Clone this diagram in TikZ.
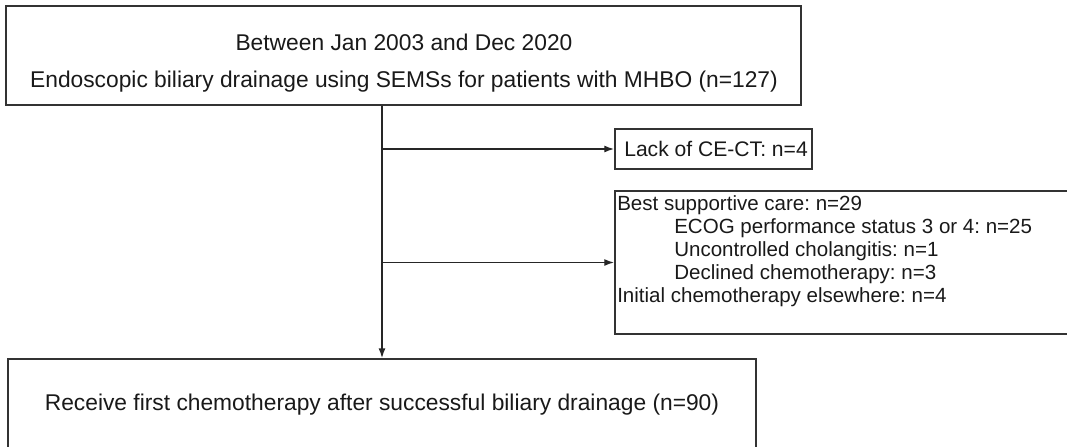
\documentclass[tikz,border=0pt]{standalone}
\usepackage{fontspec}
\setmainfont{Liberation Sans}
\usetikzlibrary{arrows.meta}
\frenchspacing

\begin{document}
\begin{tikzpicture}[x=0.025cm,y=-0.025cm]
\useasboundingbox (0,0) rectangle (1067,447);
\clip (0,0) rectangle (1067,447);

\begin{scope}[every node/.style={rectangle,draw=black!80,line width=1.2pt,inner sep=0pt}]
    \node (top) at (403.5,55.5) [minimum width=19.875cm, minimum height=2.475cm] {};
    \node (lack) at (713.5,149) [minimum width=4.925cm, minimum height=1cm] {};
    \node (bsc) at (845,262.5) [minimum width=11.5cm, minimum height=3.575cm] {};
    \node (bot) at (382,405) [minimum width=18.7cm, minimum height=2.3cm] {};
    \end{scope}

\begin{scope}[every node/.style={inner sep=0pt,text=black!90,font=\fontsize{16.2}{19}\selectfont}]
    \node (period) at (404,42) {Between Jan 2003 and Dec 2020};
    \node (cohort) at (404,82) {Endoscopic biliary drainage using SEMSs for patients with MHBO (n=127)};
    \node (lacktext) [anchor=west,font=\fontsize{15}{18}\selectfont] at (624,149) {Lack of CE-CT: n=4};
    \node (bsctext) [anchor=west,align=left,font=\fontsize{14.6}{16.4}\selectfont] at (617,251) {Best supportive care: n=29\\
        \hspace*{1.425cm}ECOG performance status 3 or 4: n=25\\
        \hspace*{1.425cm}Uncontrolled cholangitis: n=1\\
        \hspace*{1.425cm}Declined chemotherapy: n=3\\
        Initial chemotherapy elsewhere: n=4};
    \node (bottext) at (382,405) {Receive first chemotherapy after successful biliary drainage (n=90)};
    \end{scope}

\begin{scope}[>={Latex[length=7pt,width=5pt]},
              every edge/.style={draw=black!85,line width=1pt}]
    \path [->] (bot.north |- top.south) edge (bot.north);
    \path [->] (lack.west -| bot.north) edge (lack.west);
    \path [->] (bsc.west -| bot.north) edge (bsc.west);
    \end{scope}

\end{tikzpicture}
\end{document}
